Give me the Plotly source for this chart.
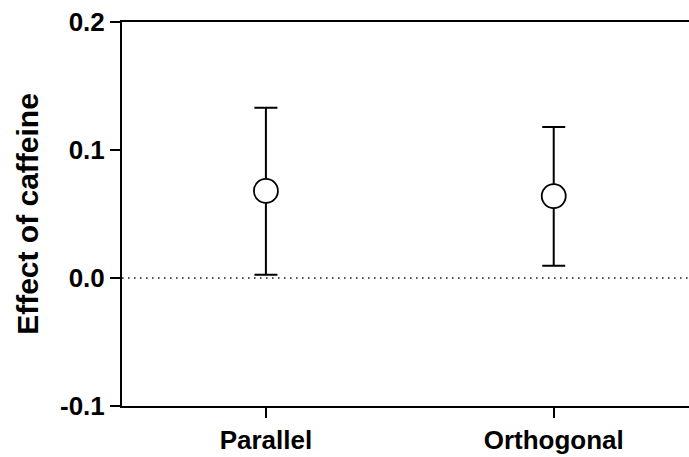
import plotly.graph_objects as go

categories = ["Parallel", "Orthogonal"]
means = [0.068, 0.064]
upper = [0.133, 0.118]
lower = [0.0026, 0.0096]
y_ticks = [-0.1, 0.0, 0.1, 0.2]
y_ticklabels = ["-0.1", "0.0", "0.1", "0.2"]

err_plus = [u - m for u, m in zip(upper, means)]
err_minus = [m - l for m, l in zip(means, lower)]

FONT = "Arial, Liberation Sans, sans-serif"

fig = go.Figure()
fig.add_trace(go.Scatter(
    x=categories, y=means, mode="markers",
    marker=dict(symbol="circle", size=24, color="white",
                line=dict(color="black", width=1.8)),
    error_y=dict(type="data", array=err_plus, arrayminus=err_minus,
                 symmetric=False, color="black", thickness=2, width=11.5),
    showlegend=False,
))

fig.add_shape(type="line", xref="paper", yref="y", x0=0, x1=1, y0=0, y1=0,
              line=dict(color="#222222", width=1.6, dash="1.6px,4.4px"), layer="below")

fig.update_layout(
    width=689, height=457,
    margin=dict(l=122, r=0, t=22, b=51),
    paper_bgcolor="white", plot_bgcolor="white",
    font=dict(family=FONT, color="black"),
    xaxis=dict(
        type="category", range=[-0.5, 1.47],
        showline=True, linecolor="black", linewidth=2, mirror=True,
        ticks="outside", ticklen=10, tickwidth=2, tickcolor="black",
        showgrid=False, zeroline=False,
        tickfont=dict(family=FONT, size=26, color="black", weight="bold"),
    ),
    yaxis=dict(
        range=[-0.1, 0.2], tickvals=y_ticks, ticktext=y_ticklabels,
        showline=True, linecolor="black", linewidth=2,
        ticks="outside", ticklen=10, tickwidth=2, tickcolor="black",
        showgrid=False, zeroline=False,
        tickfont=dict(family=FONT, size=26, color="black", weight="bold"),
        title=dict(text="Effect of caffeine", standoff=12,
                   font=dict(family=FONT, size=30, color="black", weight="bold")),
    ),
)

fig.write_html(
    "out.html",
    config={"displayModeBar": False},
    post_script="document.body.style.margin='0';document.documentElement.style.overflow='hidden';",
)
